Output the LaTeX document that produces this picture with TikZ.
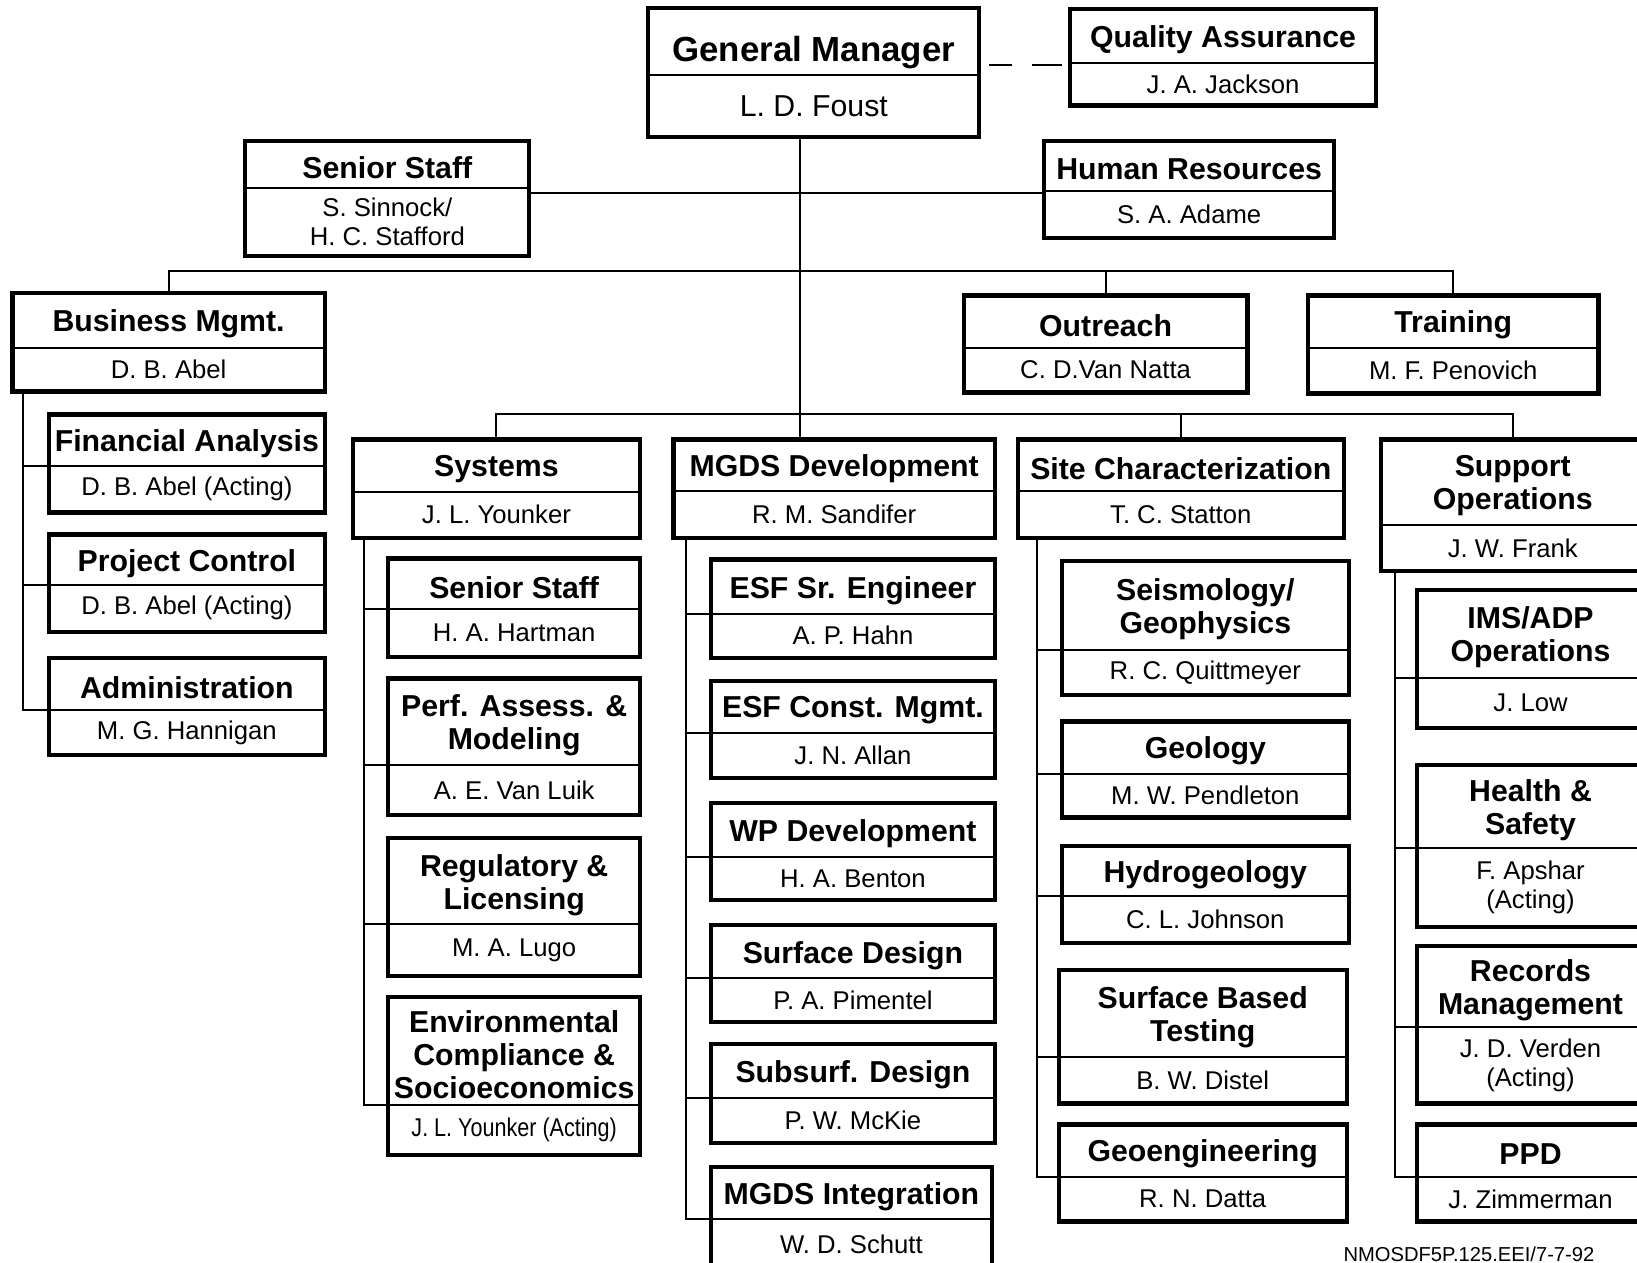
\documentclass[tikz,border=0pt]{standalone}
\usepackage{fontspec}
\setmainfont{Liberation Sans}
\usepackage{graphicx}
\tikzset{
 obox/.style={draw, line width=2.3pt, inner sep=0pt, outer sep=0pt},
 divline/.style={line width=1.1pt},
 conn/.style={line width=1.1pt},
 ttlshift/.style={yshift=-2pt},
 ttl/.style={font=\bfseries\fontsize{16.5}{18}\selectfont, align=center, inner sep=0pt, ttlshift},
 nm/.style={font=\fontsize{14}{15.5}\selectfont, align=center, inner sep=0pt},
}
% #1 name, #2 x1, #3 y1, #4 x2, #5 y2, #6 divider y, #7 title, #8 person
\newcommand\orgbox[8]{%
 \pgfmathsetmacro\obw{(#4-#2)*0.02}%
 \pgfmathsetmacro\obh{(#5-#3)*0.02}%
 \node[obox, minimum width=\obw cm, minimum height=\obh cm] (#1) at ({(#2+#4)/2},{(#3+#5)/2}) {};
 \draw[divline] (#2,#6) -- (#4,#6);
 \coordinate (#1-dl) at (#2,#6);
 \node[ttl] (#1-t) at ({(#2+#4)/2},{(#3+#6)/2}) {#7};
 \node[nm] (#1-n) at ({(#2+#4)/2},{(#6+#5)/2}) {#8};
}
\begin{document}
\begin{tikzpicture}[x=0.02cm, y=-0.02cm]
\useasboundingbox (0,0) rectangle (1568,1209);
\clip (0,0) rectangle (1568,1209);
\fill[white] (0,0) rectangle (1568,1209);

% top
\begin{scope}[ttlshift/.style={yshift=-6pt}]
\orgbox{gm}{621}{8}{938}{131}{72}{\fontsize{19}{21}\selectfont General Manager}{\fontsize{16.5}{18}\selectfont L. D. Foust}
\end{scope}
\orgbox{qa}{1025}{9}{1318}{101}{60}{Quality Assurance}{J. A. Jackson}
\orgbox{ss}{235}{135}{507}{245}{180}{Senior Staff}{S. Sinnock/\\H. C. Stafford}
\orgbox{hr}{1000}{135}{1278}{228}{183}{Human Resources}{S. A. Adame}
\orgbox{bm}{12}{281}{311}{375}{333}{Business Mgmt.}{D. B. Abel}
\orgbox{out}{923}{283}{1195}{376}{333}{Outreach}{C. D.Van Natta}
\orgbox{tr}{1253}{283}{1531}{377}{333}{Training}{M. F. Penovich}
% business children
\orgbox{fa}{47}{397}{311}{491}{446}{Financial Analysis}{D. B. Abel (Acting)}
\orgbox{pc}{47}{512}{311}{605}{560}{Project Control}{D. B. Abel (Acting)}
\orgbox{adm}{47}{630}{311}{723}{680}{Administration}{M. G. Hannigan}
% divisions
\orgbox{sys}{338}{421}{613}{515}{471}{Systems}{J. L. Younker}
\orgbox{mgds}{645}{421}{953}{515}{470}{MGDS Development}{R. M. Sandifer}
\orgbox{site}{975}{421}{1287}{515}{470}{Site Characterization}{T. C. Statton}
\orgbox{sup}{1323}{421}{1575}{547}{503}{Support\\Operations}{J. W. Frank}
% systems children
\orgbox{sa}{372}{535}{613}{629}{583}{Senior Staff}{H. A. Hartman}
\orgbox{sb}{372}{650}{613}{781}{733}{Perf. Assess. \&\\Modeling}{A. E. Van Luik}
\orgbox{sc}{372}{803}{613}{935}{885}{Regulatory \&\\Licensing}{M. A. Lugo}
\orgbox{sd}{372}{955}{613}{1106}{1058}{Environmental\\Compliance \&\\Socioeconomics}{\scalebox{0.84}[1]{J. L. Younker (Acting)}}
% mgds children
\orgbox{ma}{681}{536}{953}{630}{588}{ESF Sr. Engineer}{A. P. Hahn}
\orgbox{mb}{681}{652}{953}{745}{702}{ESF Const. Mgmt.}{J. N. Allan}
\orgbox{mc}{681}{769}{953}{862}{821}{WP Development}{H. A. Benton}
\orgbox{md}{681}{886}{953}{979}{937}{Surface Design}{P. A. Pimentel}
\orgbox{me}{681}{1000}{953}{1095}{1052}{Subsurf. Design}{P. W. McKie}
\orgbox{mf}{681}{1118}{950}{1216}{1168}{MGDS Integration}{W. D. Schutt}
% site children
\orgbox{ca}{1017}{537}{1292}{666}{623}{Seismology/\\Geophysics}{R. C. Quittmeyer}
\orgbox{cb}{1017}{691}{1292}{783}{741}{Geology}{M. W. Pendleton}
\orgbox{cc}{1017}{810}{1292}{903}{858}{Hydrogeology}{C. L. Johnson}
\orgbox{cd}{1014}{929}{1290}{1057}{1012}{Surface Based\\Testing}{B. W. Distel}
\orgbox{ce}{1014}{1077}{1290}{1170}{1127}{Geoengineering}{R. N. Datta}
% support children
\orgbox{ua}{1357}{565}{1575}{697}{649}{IMS/ADP\\Operations}{J. Low}
\orgbox{ub}{1357}{733}{1575}{888}{812}{Health \&\\Safety}{F. Apshar\\(Acting)}
\orgbox{uc}{1357}{906}{1575}{1057}{984}{Records\\Management}{J. D. Verden\\(Acting)}
\orgbox{ud}{1357}{1077}{1575}{1170}{1127}{PPD}{J. Zimmerman}

% connectors
\coordinate (trunk) at (766,397);
\coordinate (j1) at (766,185);
\coordinate (r2) at (766,260);
\coordinate (qaj) at (980,62);
\draw[conn] (gm.south -| trunk) -- (mgds.north -| trunk);
\draw[conn] (ss.east |- j1) -- (hr.west |- j1);
\draw[conn] (bm.north) |- (r2) -| (tr.north);
\draw[conn] (out.north) -- (out.north |- r2);
\draw[conn] (sys.north) |- (trunk) -| (sup.north);
\draw[conn] (site.north) -- (site.north |- trunk);
\draw[conn, dash pattern=on 0pt off 5.5pt on 12.5pt off 11pt on 16pt off 20pt] (gm.east |- qaj) -- (qa.west |- qaj);

\coordinate (bmx) at (22,0);
\draw[conn] (bm.south -| bmx) |- (adm-dl);
\draw[conn] (bmx |- fa-dl) -- (fa-dl);
\draw[conn] (bmx |- pc-dl) -- (pc-dl);

\coordinate (sysx) at (349,0);
\draw[conn] (sys.south -| sysx) |- (sd-dl);
\draw[conn] (sysx |- sa-dl) -- (sa-dl);
\draw[conn] (sysx |- sb-dl) -- (sb-dl);
\draw[conn] (sysx |- sc-dl) -- (sc-dl);

\coordinate (mx) at (657,0);
\draw[conn] (mgds.south -| mx) |- (mf-dl);
\draw[conn] (mx |- ma-dl) -- (ma-dl);
\draw[conn] (mx |- mb-dl) -- (mb-dl);
\draw[conn] (mx |- mc-dl) -- (mc-dl);
\draw[conn] (mx |- md-dl) -- (md-dl);
\draw[conn] (mx |- me-dl) -- (me-dl);

\coordinate (cx) at (993,0);
\draw[conn] (site.south -| cx) |- (ce-dl);
\draw[conn] (cx |- ca-dl) -- (ca-dl);
\draw[conn] (cx |- cb-dl) -- (cb-dl);
\draw[conn] (cx |- cc-dl) -- (cc-dl);
\draw[conn] (cx |- cd-dl) -- (cd-dl);

\coordinate (ux) at (1336,0);
\draw[conn] (sup.south -| ux) |- (ud-dl);
\draw[conn] (ux |- ua-dl) -- (ua-dl);
\draw[conn] (ux |- ub-dl) -- (ub-dl);
\draw[conn] (ux |- uc-dl) -- (uc-dl);

\node[font=\fontsize{11}{13}\selectfont, inner sep=0pt] (foot) at (1407,1201) {NMOSDF5P.125.EEI/7-7-92};
\end{tikzpicture}
\end{document}
